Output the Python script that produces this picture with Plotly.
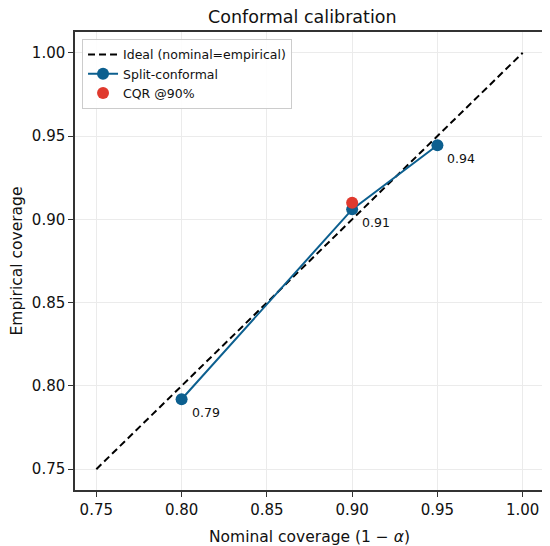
import plotly.graph_objects as go

# data
ideal_x = [0.75, 1.00]
ideal_y = [0.75, 1.00]
nominal = [0.80, 0.90, 0.95]
empirical = [0.792, 0.906, 0.9445]
point_labels = ["0.79", "0.91", "0.94"]
cqr_x = [0.90]
cqr_y = [0.910]
ticks = [0.75, 0.80, 0.85, 0.90, 0.95, 1.00]
tick_text = ["0.75", "0.80", "0.85", "0.90", "0.95", "1.00"]

blue = "#0c5f8f"
red = "#e03a2e"

fig = go.Figure()
fig.add_trace(go.Scatter(x=ideal_x, y=ideal_y, mode="lines",
                         line=dict(color="black", width=2, dash="7px,4px"),
                         name="Ideal (nominal=empirical)"))
fig.add_trace(go.Scatter(x=nominal, y=empirical, mode="lines+markers",
                         line=dict(color=blue, width=2),
                         marker=dict(color=blue, size=12),
                         name="Split-conformal"))
fig.add_trace(go.Scatter(x=cqr_x, y=cqr_y, mode="markers",
                         marker=dict(color=red, size=12),
                         name="CQR @90%"))

for x, y, t in zip(nominal, empirical, point_labels):
    fig.add_annotation(x=x, y=y, text=t, showarrow=False,
                       xanchor="left", yanchor="middle", xshift=8, yshift=-13,
                       font=dict(size=12.5, color="#111"))

axis_common = dict(range=[0.7375, 1.0125], tickvals=ticks, ticktext=tick_text,
                   showgrid=True, gridcolor="#ebebeb", gridwidth=1, zeroline=False,
                   showline=True, linecolor="#333", linewidth=1.5, mirror=True,
                   ticks="outside", ticklen=5, tickcolor="#333", automargin=False,
                   tickfont=dict(size=15, color="#111"))

# page body has an 8px margin, so the figure is a bit smaller than the window
fig.update_layout(
    width=542, height=538,
    margin=dict(l=67, r=6, t=24, b=56),
    plot_bgcolor="white", paper_bgcolor="white",
    font=dict(family="DejaVu Sans", color="#111"),
    title=dict(text="Conformal calibration", x=0.543, xanchor="center", y=0.983,
               yanchor="middle", font=dict(size=17.5)),
    xaxis=dict(axis_common, title=dict(text="Nominal coverage (1 − <i>α</i>)",
                                       font=dict(size=15.5), standoff=14)),
    yaxis=dict(axis_common, title=dict(text="Empirical coverage",
                                       font=dict(size=15.5), standoff=6)),
    legend=dict(x=0.015, y=0.985, xanchor="left", yanchor="top",
                bgcolor="rgba(255,255,255,0.9)", bordercolor="#ccc", borderwidth=1,
                font=dict(size=12.5), tracegroupgap=0, itemwidth=30),
    showlegend=True,
)

fig.write_html("out.html")
